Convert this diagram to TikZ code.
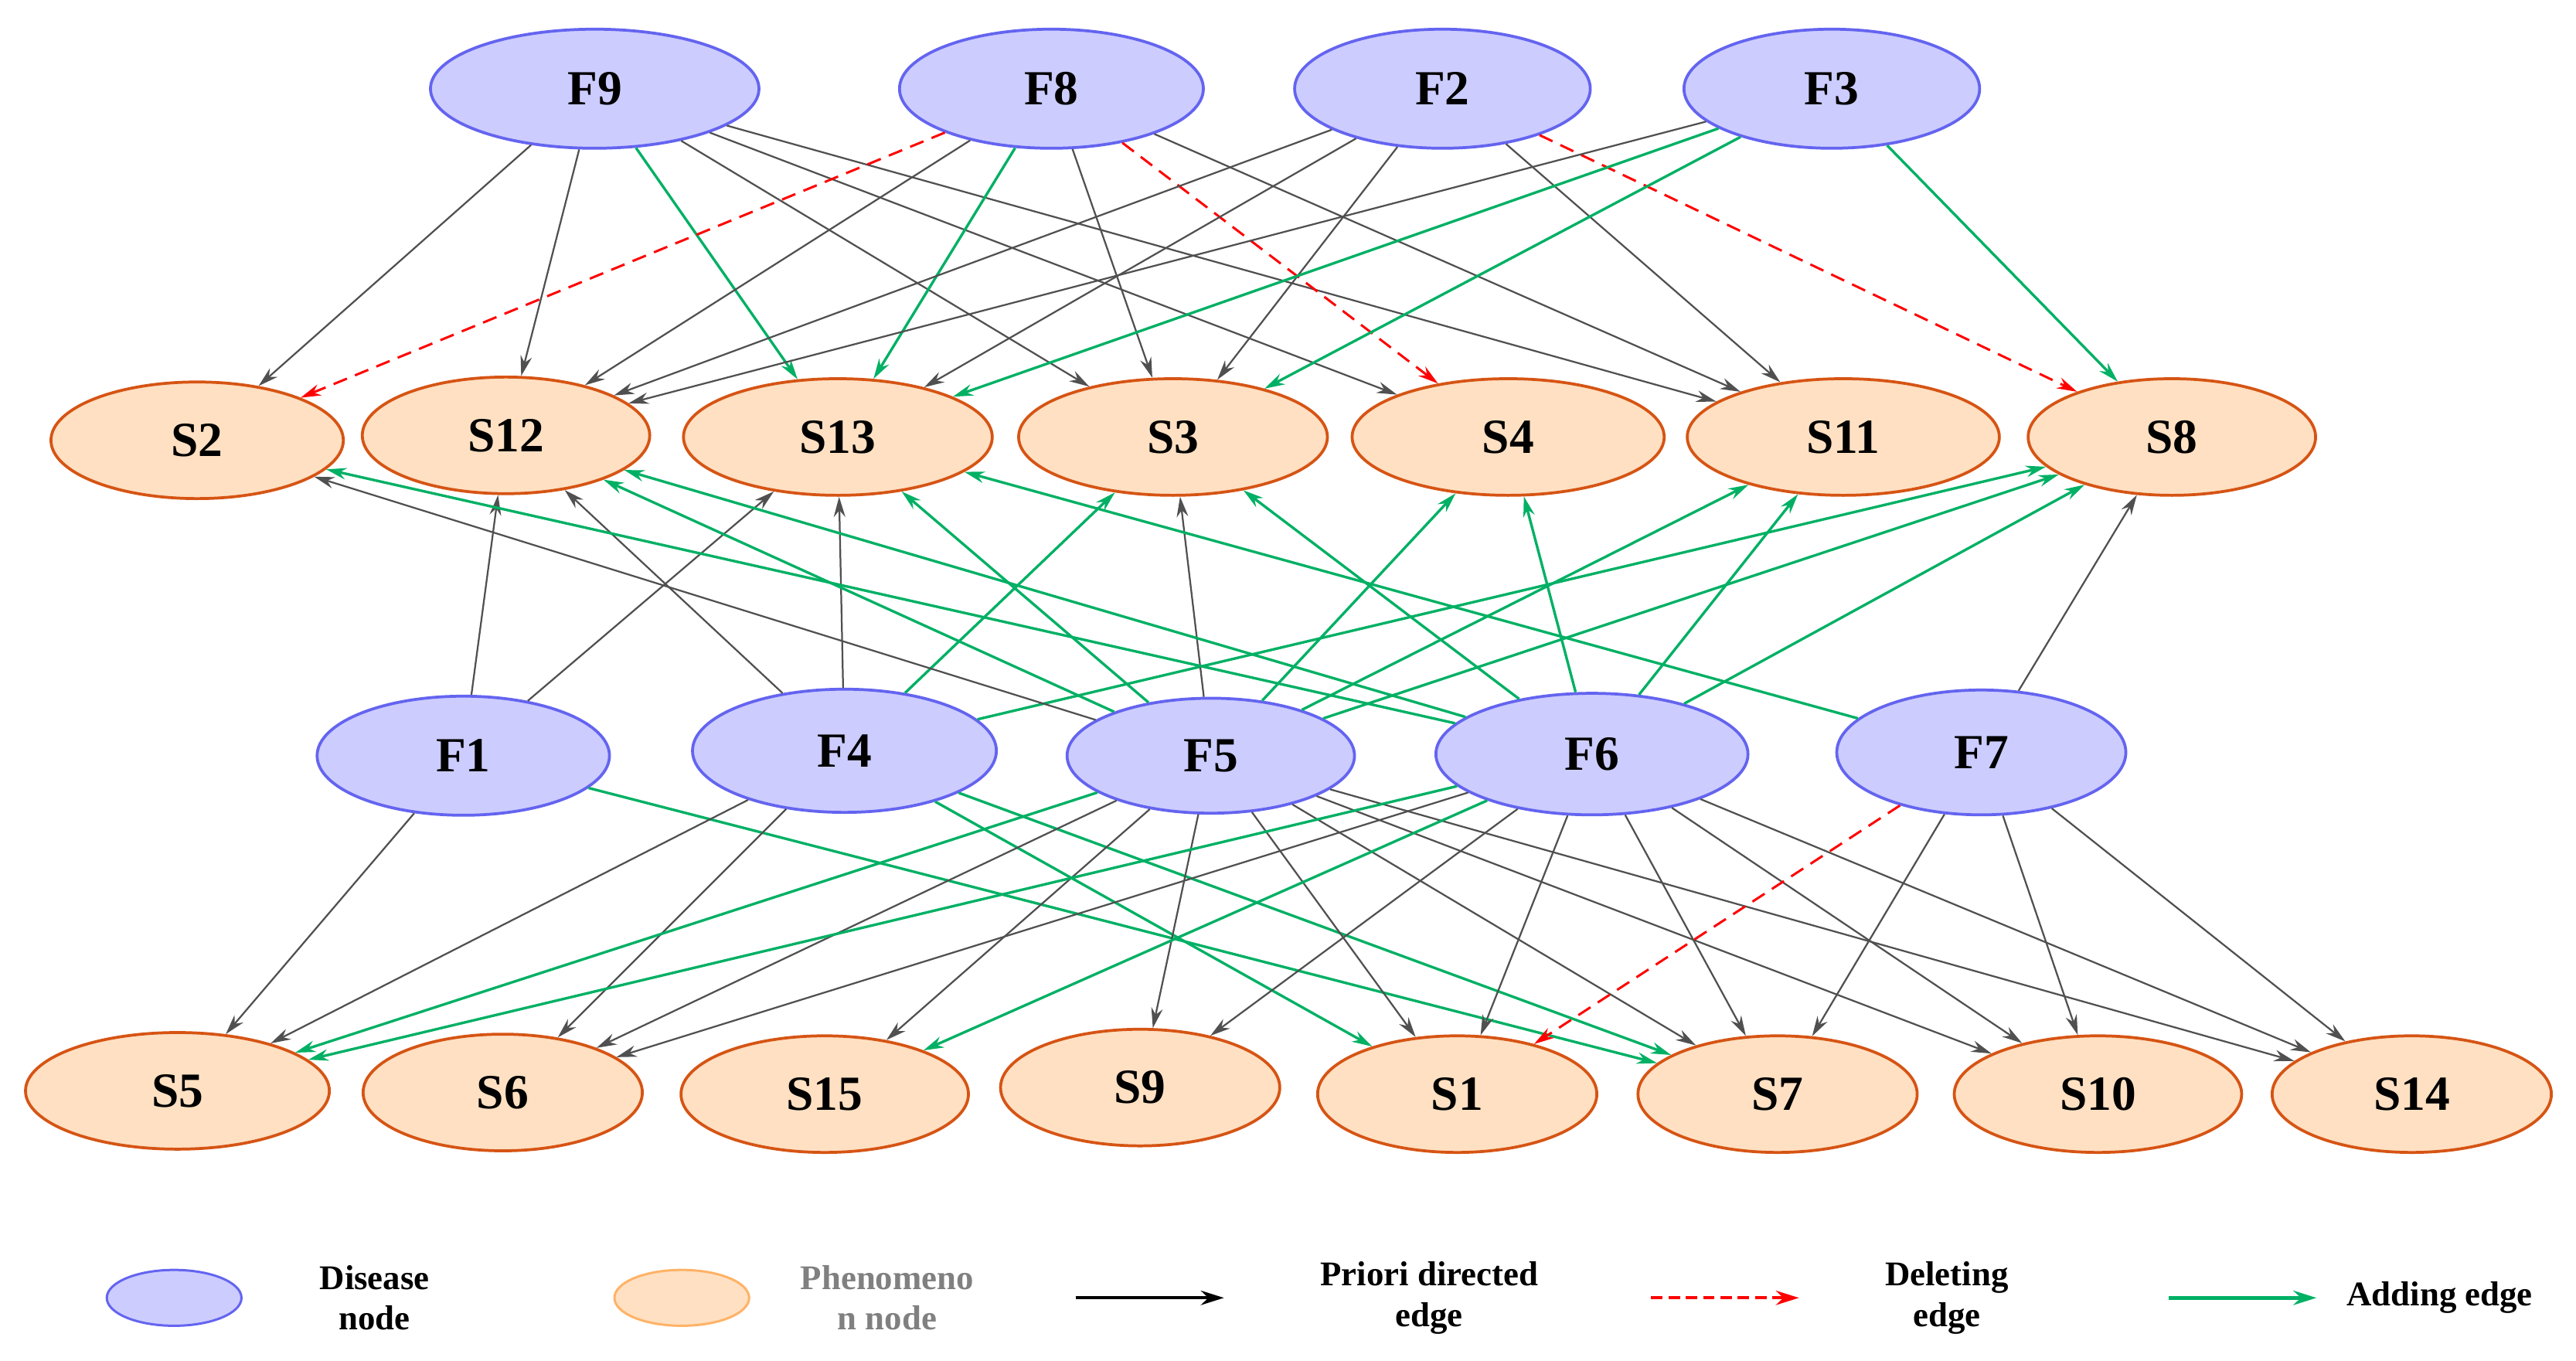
\documentclass[tikz,border=0pt]{standalone}
\usepackage{fontspec}
\setmainfont{Liberation Serif}
\usetikzlibrary{shapes.geometric,arrows.meta}
\definecolor{dfill}{RGB}{204,204,255}
\definecolor{ddraw}{RGB}{100,100,240}
\definecolor{pfill}{RGB}{255,224,194}
\definecolor{pdraw}{RGB}{214,84,20}
\definecolor{grn}{RGB}{0,176,100}
\definecolor{gry}{RGB}{80,80,80}
\begin{document}
\begin{tikzpicture}[x=0.02cm,y=-0.02cm,
  dis/.style={ellipse,draw=ddraw,fill=dfill,line width=1pt,minimum width=3.6cm,minimum height=1.45cm,font=\fontsize{17}{20}\selectfont\bfseries,inner sep=0pt},
  phe/.style={ellipse,draw=pdraw,fill=pfill,line width=1pt,minimum width=3.5cm,minimum height=1.42cm,font=\fontsize{17}{20}\selectfont\bfseries,inner sep=0pt},
  pe/.style={draw=gry,line width=0.6pt,-{Stealth[length=7pt,width=4pt]}},
  de/.style={draw=red,line width=0.8pt,dashed,dash pattern=on 5pt off 3pt,-{Stealth[length=7pt,width=4pt]}},
  ae/.style={draw=grn,line width=0.9pt,-{Stealth[length=7pt,width=4pt]}},
  lt/.style={font=\fontsize{12}{14}\selectfont\bfseries,align=center}]
\useasboundingbox (0,0) rectangle (1568,828.4);
% top diseases
\node[dis,minimum width=4cm] (F9) at (362,54) {F9};
\node[dis,minimum width=3.7cm] (F8) at (640,54) {F8};
\node[dis] (F2) at (878,54) {F2};
\node[dis] (F3) at (1115,54) {F3};
% S row
\node[phe,minimum width=3.56cm] (S2) at (120,268) {S2};
\node[phe] (S12) at (308,265) {S12};
\node[phe,minimum width=3.76cm] (S13) at (510,266) {S13};
\node[phe,minimum width=3.76cm] (S3) at (714,266) {S3};
\node[phe,minimum width=3.8cm] (S4) at (918,266) {S4};
\node[phe,minimum width=3.8cm] (S11) at (1122,266) {S11};
\node[phe] (S8) at (1322,266) {S8};
% middle diseases
\node[dis,minimum width=3.56cm] (F1) at (282,460) {F1};
\node[dis,minimum width=3.7cm,minimum height=1.5cm] (F4) at (514,457) {F4};
\node[dis,minimum width=3.5cm,minimum height=1.4cm] (F5) at (737,460) {F5};
\node[dis,minimum width=3.8cm,minimum height=1.48cm] (F6) at (969,459) {F6};
\node[dis,minimum width=3.52cm,minimum height=1.52cm] (F7) at (1206,458) {F7};
% bottom
\node[phe,minimum width=3.7cm] (S5) at (108,664) {S5};
\node[phe,minimum width=3.4cm] (S6) at (306,665) {S6};
\node[phe] (S15) at (502,666) {S15};
\node[phe,minimum width=3.4cm] (S9) at (694,662) {S9};
\node[phe,minimum width=3.4cm] (S1) at (887,666) {S1};
\node[phe,minimum width=3.4cm] (S7) at (1082,666) {S7};
\node[phe] (S10) at (1277,666) {S10};
\node[phe,minimum width=3.4cm] (S14) at (1468,666) {S14};
% top edges
\draw[pe] (F9) -- (S2); \draw[pe] (F9) -- (S12); \draw[ae] (F9) -- (S13);
\draw[pe] (F9) -- (S3); \draw[pe] (F9) -- (S4); \draw[pe] (F9) -- (S11);
\draw[de] (F8) -- (S2); \draw[pe] (F8) -- (S12); \draw[ae] (F8) -- (S13);
\draw[pe] (F8) -- (S3); \draw[de] (F8) -- (S4); \draw[pe] (F8) -- (S11);
\draw[pe] (F2) -- (S12); \draw[pe] (F2) -- (S13); \draw[pe] (F2) -- (S3);
\draw[pe] (F2) -- (S11); \draw[de] (F2) -- (S8);
\draw[pe] (F3) -- (S12); \draw[ae] (F3) -- (S13); \draw[ae] (F3) -- (S3); \draw[ae] (F3) -- (S8);
% middle upward
\draw[pe] (F1) -- (S12); \draw[pe] (F1) -- (S13);
\draw[pe] (F4) -- (S12); \draw[pe] (F4) -- (S13); \draw[ae] (F4) -- (S3); \draw[ae] (F4) -- (S8);
\draw[pe] (F5) -- (S2); \draw[ae] (F5) -- (S12); \draw[ae] (F5) -- (S13); \draw[pe] (F5) -- (S3);
\draw[ae] (F5) -- (S4); \draw[ae] (F5) -- (S11); \draw[ae] (F5) -- (S8);
\draw[ae] (F6) -- (S2); \draw[ae] (F6) -- (S12); \draw[ae] (F6) -- (S3); \draw[ae] (F6) -- (S4);
\draw[ae] (F6) -- (S11); \draw[ae] (F6) -- (S8);
\draw[ae] (F7) -- (S13); \draw[pe] (F7) -- (S8);
% downward
\draw[pe] (F1) -- (S5); \draw[ae] (F1) -- (S7);
\draw[pe] (F4) -- (S5); \draw[pe] (F4) -- (S6); \draw[ae] (F4) -- (S1); \draw[ae] (F4) -- (S7);
\draw[ae] (F5) -- (S5); \draw[pe] (F5) -- (S6); \draw[pe] (F5) -- (S15); \draw[pe] (F5) -- (S9);
\draw[pe] (F5) -- (S1); \draw[pe] (F5) -- (S7); \draw[pe] (F5) -- (S10); \draw[pe] (F5) -- (S14);
\draw[ae] (F6) -- (S5); \draw[pe] (F6) -- (S6); \draw[ae] (F6) -- (S15); \draw[pe] (F6) -- (S9);
\draw[pe] (F6) -- (S1); \draw[pe] (F6) -- (S7); \draw[pe] (F6) -- (S10); \draw[pe] (F6) -- (S14);
\draw[de] (F7) -- (S1); \draw[pe] (F7) -- (S7); \draw[pe] (F7) -- (S10); \draw[pe] (F7) -- (S14);
% legend
\node[ellipse,draw=ddraw,fill=dfill,line width=0.8pt,minimum width=1.64cm,minimum height=0.68cm] (LD) at (106,790) {};
\node[lt] (LDt) at (228,790) {Disease\\node};
\node[ellipse,draw=orange!60,fill=pfill,line width=0.8pt,minimum width=1.64cm,minimum height=0.68cm] (LP) at (415,790) {};
\node[lt,text=gray] (LPt) at (540,790) {Phenomeno\\n node};
\coordinate (a1) at (655,790); \coordinate (a2) at (745,790);
\draw[line width=1pt,-{Stealth[length=8pt,width=5pt]}] (a1) -- (a2);
\node[lt] (LAt) at (870,790) {Priori directed\\edge};
\coordinate (b1) at (1005,790); \coordinate (b2) at (1095,790);
\draw[draw=red,line width=1pt,dashed,dash pattern=on 4pt off 2pt,-{Stealth[length=8pt,width=5pt]}] (b1) -- (b2);
\node[lt] (LBt) at (1185,790) {Deleting\\edge};
\coordinate (c1) at (1320,790); \coordinate (c2) at (1410,790);
\draw[draw=grn,line width=1.2pt,-{Stealth[length=8pt,width=5pt]}] (c1) -- (c2);
\node[lt] (LCt) at (1485,790) {Adding edge};
\end{tikzpicture}
\end{document}
